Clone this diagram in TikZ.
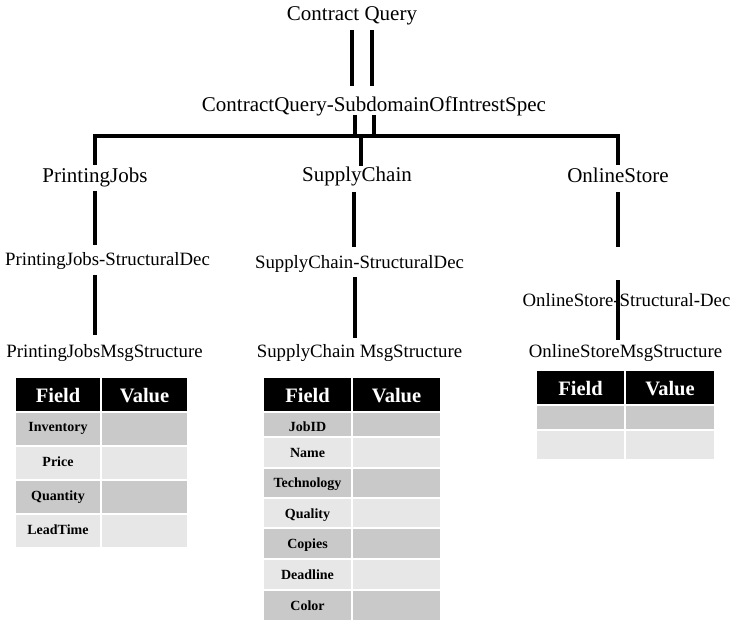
\documentclass[tikz,border=0pt]{standalone}
\usepackage{fontspec}
\setmainfont{Liberation Serif}
\definecolor{rowdark}{RGB}{201,201,201}
\definecolor{rowlight}{RGB}{231,231,231}

\tikzset{
  topname/.style={anchor=base, inner sep=0pt, font=\fontsize{21}{25}\selectfont},
  subname/.style={anchor=base, inner sep=0pt, font=\fontsize{18.8}{22}\selectfont},
  link/.style={line width=4pt, line join=miter},
  cellbox/.style={rectangle, draw=white, line width=2pt, anchor=north west,
                  outer sep=0pt, inner sep=0pt},
  headtxt/.style={anchor=base, inner sep=0pt, text=white,
                  font=\bfseries\fontsize{20.5}{24}\selectfont},
  fieldtxt/.style={anchor=base, inner sep=0pt,
                   font=\bfseries\fontsize{14}{16}\selectfont},
}

% header row of a Field/Value table: name, xL, xMid, xR, yTop, yBottom
\newcommand\tblhead[6]{%
  \node[cellbox, fill=black, minimum width={(#3-#2)*1pt}, minimum height={(#6-#5)*1pt}] (#1f) at (#2,#5) {};
  \node[cellbox, fill=black, minimum width={(#4-#3)*1pt}, minimum height={(#6-#5)*1pt}] (#1v) at (#3,#5) {};
  \node[headtxt] (#1ft) at ({(#2+#3)/2},{#5+25.5}) {Field};
  \node[headtxt] (#1vt) at ({(#3+#4)/2},{#5+25.5}) {Value};
}
% data row: name, xL, xMid, xR, yTop, yBottom, fill, field label
\newcommand\tblrow[8]{%
  \node[cellbox, fill=#7, minimum width={(#3-#2)*1pt}, minimum height={(#6-#5)*1pt}] (#1f) at (#2,#5) {};
  \node[cellbox, fill=#7, minimum width={(#4-#3)*1pt}, minimum height={(#6-#5)*1pt}] (#1v) at (#3,#5) {};
  \node[fieldtxt] (#1t) at ({(#2+#3)/2},{#5+20}) {#8};
}

\begin{document}
\begin{tikzpicture}[x=1pt, y=-1pt]
\path[use as bounding box] (0,0) rectangle (731,620);

% ---- names ----
\node[topname] (cq)  at (352,21)    {Contract Query};
\node[topname] (sub) at (374,112)   {ContractQuery-SubdomainOfIntrestSpec};
\node[topname] (pj)  at (95,183)    {PrintingJobs};
\node[topname] (sc)  at (357,182)   {SupplyChain};
\node[topname] (os)  at (618,183)   {OnlineStore};
\node[subname] (pjd) at (107.5,266) {PrintingJobs-StructuralDec};
\node[subname] (scd) at (359.5,269) {SupplyChain-StructuralDec};
\node[subname] (osd) at (626.5,307) {OnlineStore-Structural-Dec};
\node[subname] (pjm) at (104.5,358) {PrintingJobsMsgStructure};
\node[subname] (scm) at (359.5,358) {SupplyChain MsgStructure};
\node[subname] (osm) at (625.5,358) {OnlineStoreMsgStructure};

% ---- connectors ----
\draw[link] ([yshift=-9pt]cq.base) -- ([xshift=-22pt,yshift=26pt]sub.base);
\draw[link] ([xshift=20pt,yshift=-9pt]cq.base) -- ([xshift=-2pt,yshift=26pt]sub.base);

\coordinate (bus) at (361,136);
\draw[link] ([xshift=-19pt,yshift=-3pt]sub.base) -- ++(0,21);
\draw[link] ([yshift=-3pt]sub.base) -- ++(0,21);
\draw[link] ([yshift=18pt]pj.base) |- (bus) -| ([yshift=18pt]os.base);
\draw[link] (bus) -- ([xshift=4pt,yshift=16pt]sc.base);

\draw[link] ([yshift=-8pt]pj.base) -- ([xshift=-12.5pt,yshift=21pt]pjd.base);
\draw[link] ([xshift=-12.5pt,yshift=-9pt]pjd.base) -- ([xshift=-9.5pt,yshift=23pt]pjm.base);
\draw[link] ([xshift=-3pt,yshift=-10pt]sc.base) -- ([xshift=-5.5pt,yshift=22pt]scd.base);
\draw[link] ([xshift=-4.5pt,yshift=-8pt]scd.base) -- ([xshift=-4.5pt,yshift=20pt]scm.base);
\draw[link] ([yshift=-9pt]os.base) -- ([xshift=-8.5pt,yshift=60pt]osd.base);
\draw[link] ([xshift=-8.5pt,yshift=27pt]osd.base) -- ([xshift=-7.5pt,yshift=18pt]osm.base);

% ---- PrintingJobs table ----
\tblhead{pa}{15}{101}{188}{377}{411.5}
\tblrow{pa1}{15}{101}{188}{411.5}{446}{rowdark}{Inventory}
\tblrow{pa2}{15}{101}{188}{446}{480}{rowlight}{Price}
\tblrow{pa3}{15}{101}{188}{480}{514}{rowdark}{Quantity}
\tblrow{pa4}{15}{101}{188}{514}{548}{rowlight}{LeadTime}

% ---- SupplyChain table ----
\tblhead{sa}{263}{352}{441}{377}{411.5}
\tblrow{sa1}{263}{352}{441}{411.5}{437}{rowdark}{JobID}
\tblrow{sa2}{263}{352}{441}{437}{467.5}{rowlight}{Name}
\tblrow{sa3}{263}{352}{441}{467.5}{498}{rowdark}{Technology}
\tblrow{sa4}{263}{352}{441}{498}{528}{rowlight}{Quality}
\tblrow{sa5}{263}{352}{441}{528}{559}{rowdark}{Copies}
\tblrow{sa6}{263}{352}{441}{559}{590}{rowlight}{Deadline}
\tblrow{sa7}{263}{352}{441}{590}{622}{rowdark}{Color}

% ---- OnlineStore table ----
\tblhead{oa}{536}{625}{715}{370}{404.5}
\tblrow{oa1}{536}{625}{715}{404.5}{430}{rowdark}{}
\tblrow{oa2}{536}{625}{715}{430}{460}{rowlight}{}
\end{tikzpicture}
\end{document}
